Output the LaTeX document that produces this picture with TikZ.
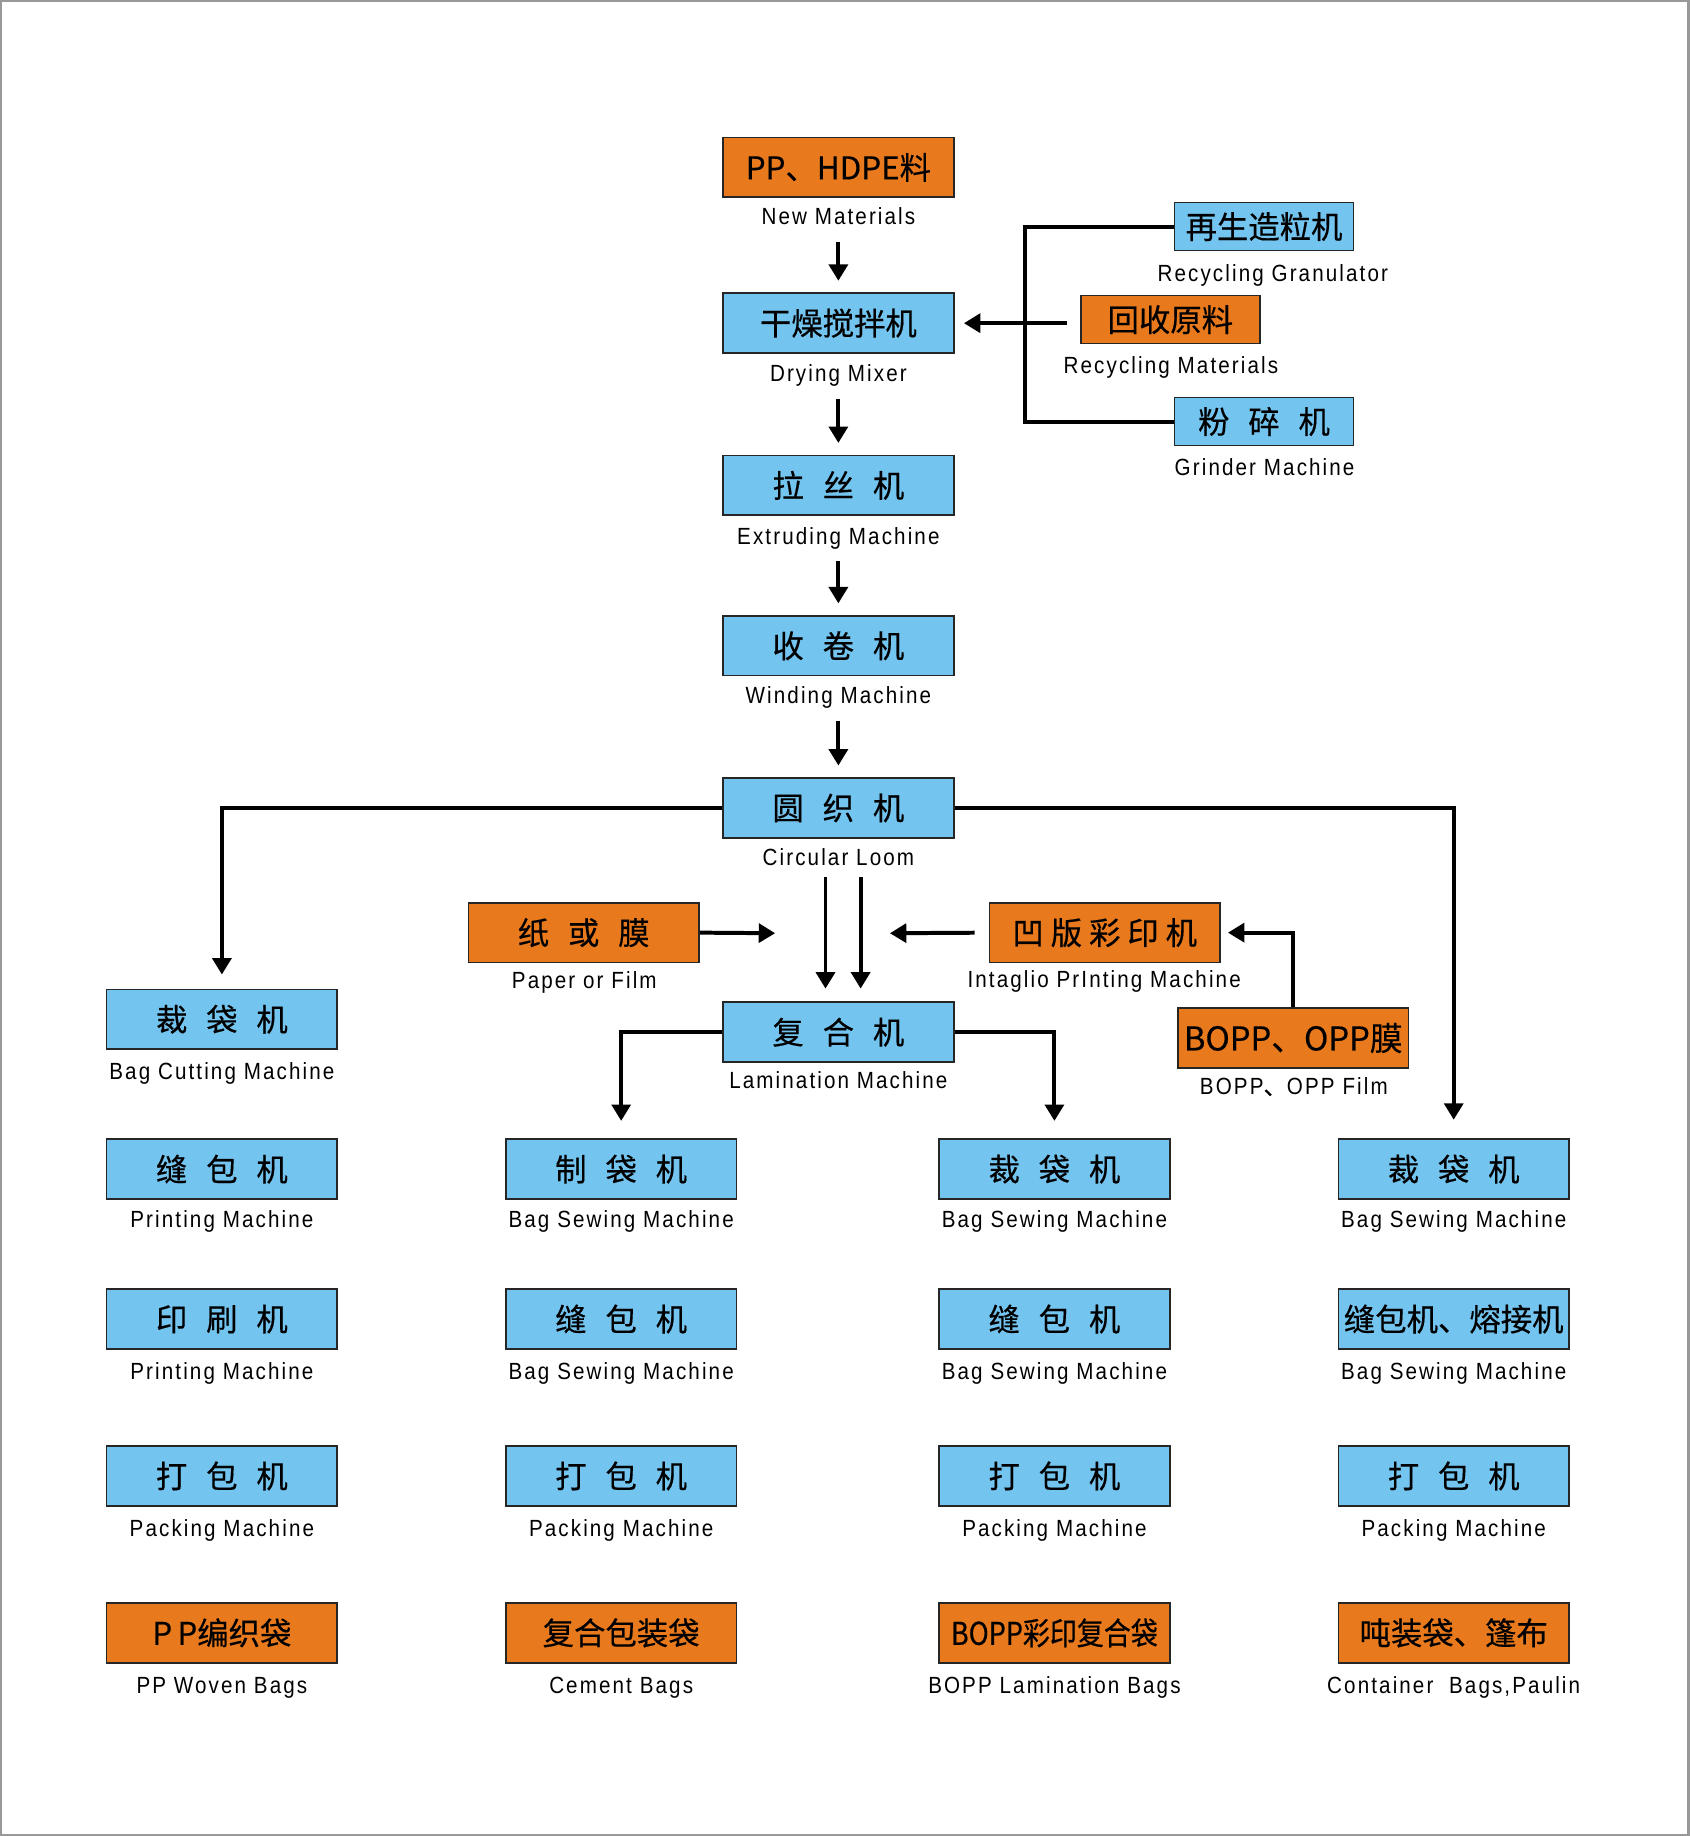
\documentclass[tikz,border=0pt]{standalone}
\usepackage{fontspec}
\setmainfont{Liberation Sans}
\newfontfamily\cjk{Noto Sans CJK SC}[FakeBold=0.4]
\newfontfamily\cjknarrow{Noto Sans CJK SC}[FakeStretch=0.86,FakeBold=0.4]
\newfontfamily\lblfont{Liberation Sans}[FakeStretch=0.88,LetterSpace=9]
\usetikzlibrary{arrows.meta}
\definecolor{boxorange}{RGB}{232,121,28}
\definecolor{boxblue}{RGB}{116,196,240}
\newcommand{\gap}{\hspace{0.6em}}
\newcommand{\tgap}{\hspace{0.22em}}

\begin{document}
\begin{tikzpicture}[x=0.5pt,y=0.5pt,yscale=-1,
  mach/.style={draw=black!85, line width=0.7pt, fill=boxblue, minimum width=98.5pt, minimum height=25.5pt, inner sep=0pt, font=\cjk\fontsize{13.4}{13.4}\selectfont},
  matbox/.style={mach, fill=boxorange},
  smallmach/.style={mach, minimum width=76.5pt, minimum height=20.5pt},
  smallmat/.style={smallmach, fill=boxorange},
  lbl/.style={inner sep=0pt, text height=7pt, text depth=2pt, yshift=-2pt, font=\lblfont\fontsize{10}{10}\selectfont},
  flow/.style={line width=1.7pt, -{Triangle[width=8pt,length=7pt]}},
  feed/.style={line width=1.7pt}]
        \useasboundingbox (0,0) rectangle (1443,1568);
        %Frame
        \draw [draw=black!40, line width=1pt] (1,1) rectangle (1442,1567);

        %Main line
        \node [matbox] (pp) at (716,143) {PP、HDPE料};
        \node [lbl] (pplbl) at (716,183) {New Materials};
        \node [mach] (dry) at (716,276) {干燥搅拌机};
        \node [lbl] (drylbl) at (716,317) {Drying Mixer};
        \node [mach] (ext) at (716,414.5) {拉\gap 丝\gap 机};
        \node [lbl] (extlbl) at (716,456) {Extruding Machine};
        \node [mach] (wind) at (716,551.5) {收\gap 卷\gap 机};
        \node [lbl] (windlbl) at (716,592) {Winding Machine};
        \node [mach] (loom) at (716,690) {圆\gap 织\gap 机};
        \node [lbl] (loomlbl) at (716,730) {Circular Loom};

        \draw [flow, shorten <=5pt, shorten >=5pt] (pplbl.south) -- (dry.north);
        \draw [flow, shorten <=5pt, shorten >=5pt] (drylbl.south) -- (ext.north);
        \draw [flow, shorten <=5pt, shorten >=5pt] (extlbl.south) -- (wind.north);
        \draw [flow, shorten <=5pt, shorten >=5pt] (windlbl.south) -- (loom.north);

        %Recycling
        \node [smallmach] (gran) at (1079.5,193.5) {再生造粒机};
        \node [lbl] (granlbl) at (1087,231) {Recycling Granulator};
        \node [smallmat] (recm) at (999.5,273) {回收原料};
        \node [lbl] (recmlbl) at (1000,310) {Recycling Materials};
        \node [smallmach] (grind) at (1079.5,360) {粉\gap 碎\gap 机};
        \node [lbl] (grindlbl) at (1080,397) {Grinder Machine};
        \coordinate (brk) at (875,276);
        \draw [feed] (gran.west) -| (brk) |- (grind.west);
        \draw [flow, shorten <=5.5pt, shorten >=4pt] (dry.east -| recm.west) -- (dry.east);

        %Lamination feed
        \node [matbox] (paper) at (498.5,796.5) {纸\gap 或\gap 膜};
        \node [lbl] (paperlbl) at (499,835) {Paper or Film};
        \node [matbox] (intag) at (943.5,796.5) {凹\tgap 版\tgap 彩\tgap 印\tgap 机};
        \node [lbl] (intaglbl) at (943,834) {Intaglio PrInting Machine};
        \node [matbox, font=\cjk\fontsize{14}{14}\selectfont] (bopp) at (1104.5,886.5) {BOPP、OPP膜};
        \node [lbl] (bopplbl) at (1105,926) {BOPP{\cjk 、}OPP Film};
        \node [mach] (lam) at (716,881.5) {复\gap 合\gap 机};
        \node [lbl] (lamlbl) at (716,921) {Lamination Machine};
        \coordinate (pin) at (662,797);
        \coordinate (iin) at (760,797);

        \draw [flow] (paper.east) -- (pin);
        \draw [flow, shorten <=6pt] (intag.west) -- (iin);
        \draw [flow, shorten >=3pt] (bopp.north) |- (intag.east);
        \draw [flow, shorten <=3pt, shorten >=5.5pt] ([xshift=-5.5pt]loomlbl.south) -- ([xshift=-5.5pt]lam.north);
        \draw [flow, shorten <=3pt, shorten >=5.5pt] ([xshift=9.5pt]loomlbl.south) -- ([xshift=9.5pt]lam.north);

        %Column 1
        \node [mach] (c1a) at (189.5,870.5) {裁\gap 袋\gap 机};
        \node [lbl] (c1albl) at (189.5,913) {Bag Cutting Machine};
        \node [mach] (c1b) at (189.5,998.5) {缝\gap 包\gap 机};
        \node [lbl] (c1blbl) at (189.5,1039) {Printing Machine};
        \node [mach] (c1c) at (189.5,1126.5) {印\gap 刷\gap 机};
        \node [lbl] (c1clbl) at (189.5,1169) {Printing Machine};
        \node [mach] (c1d) at (189.5,1260.5) {打\gap 包\gap 机};
        \node [lbl] (c1dlbl) at (189.5,1303) {Packing Machine};
        \node [matbox] (c1e) at (189.5,1394.5) {P\,P编织袋};
        \node [lbl] (c1elbl) at (189.5,1437) {PP Woven Bags};

        %Column 2
        \node [mach] (c2b) at (530.5,998.5) {制\gap 袋\gap 机};
        \node [lbl] (c2blbl) at (530.5,1039) {Bag Sewing Machine};
        \node [mach] (c2c) at (530.5,1126.5) {缝\gap 包\gap 机};
        \node [lbl] (c2clbl) at (530.5,1169) {Bag Sewing Machine};
        \node [mach] (c2d) at (530.5,1260.5) {打\gap 包\gap 机};
        \node [lbl] (c2dlbl) at (530.5,1303) {Packing Machine};
        \node [matbox] (c2e) at (530.5,1394.5) {复合包装袋};
        \node [lbl] (c2elbl) at (530.5,1437) {Cement Bags};

        %Column 3
        \node [mach] (c3b) at (900.5,998.5) {裁\gap 袋\gap 机};
        \node [lbl] (c3blbl) at (900.5,1039) {Bag Sewing Machine};
        \node [mach] (c3c) at (900.5,1126.5) {缝\gap 包\gap 机};
        \node [lbl] (c3clbl) at (900.5,1169) {Bag Sewing Machine};
        \node [mach] (c3d) at (900.5,1260.5) {打\gap 包\gap 机};
        \node [lbl] (c3dlbl) at (900.5,1303) {Packing Machine};
        \node [matbox, font=\cjknarrow\fontsize{13.4}{13.4}\selectfont] (c3e) at (900.5,1394.5) {BOPP彩印复合袋};
        \node [lbl] (c3elbl) at (900.5,1437) {BOPP Lamination Bags};

        %Column 4
        \node [mach] (c4b) at (1241.5,998.5) {裁\gap 袋\gap 机};
        \node [lbl] (c4blbl) at (1241.5,1039) {Bag Sewing Machine};
        \node [mach] (c4c) at (1241.5,1126.5) {缝包机、熔接机};
        \node [lbl] (c4clbl) at (1241.5,1169) {Bag Sewing Machine};
        \node [mach] (c4d) at (1241.5,1260.5) {打\gap 包\gap 机};
        \node [lbl] (c4dlbl) at (1241.5,1303) {Packing Machine};
        \node [matbox] (c4e) at (1241.5,1394.5) {吨装袋、篷布};
        \node [lbl] (c4elbl) at (1241.5,1437) {Container\ \ Bags,Paulin};

        %Branches
        \draw [flow, shorten >=6pt] (loom.west) -| (c1a.north);
        \draw [flow, shorten >=8pt] (loom.east) -| (c4b.north);
        \draw [flow, shorten >=7.5pt] (lam.west) -| (c2b.north);
        \draw [flow, shorten >=7.5pt] (lam.east) -| (c3b.north);

\end{tikzpicture}
\end{document}
